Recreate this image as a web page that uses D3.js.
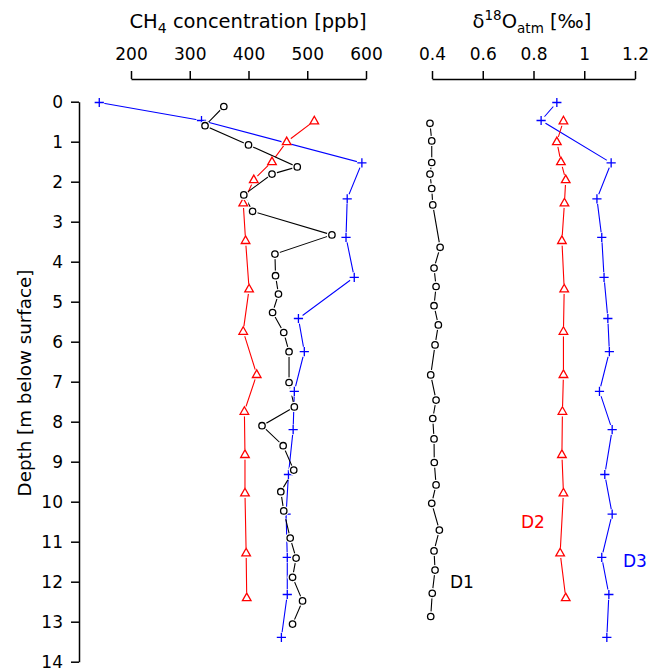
<!DOCTYPE html>
<html><head><meta charset="utf-8">
<script src="https://cdn.jsdelivr.net/npm/d3@7"></script>
<style>body{margin:0;background:#fff;} svg{display:block;font-family:"DejaVu Sans",sans-serif;}</style>
</head><body>
<svg id="chart" width="660" height="669"></svg>
<script>
// ---- data ----
const depthTicks = [0,1,2,3,4,5,6,7,8,9,10,11,12,13,14];
const ch4Ticks = [200,300,400,500,600];
const d18Ticks = [0.4,0.6,0.8,1.0,1.2];
const d18TickLabels = ["0.4","0.6","0.8","1","1.2"];

const d1DepthCH4 = [0.12,0.6,1.08,1.63,1.81,2.33,2.74,3.33,3.81,4.35,4.81,5.27,5.77,6.25,7.02,7.63,8.1,8.6,9.21,9.75,10.23,10.91,11.41,11.89,12.48,13.06];
const d1CH4 = [358,326,400,483,440,392,407,542,445,446,451,441,460,469,469,478,423,459,477,455,460,471,481,475,492,475];
const d1DepthO = [0.54,0.98,1.52,1.81,2.17,2.58,3.64,4.16,4.62,5.1,5.58,6.08,6.83,7.46,7.92,8.43,9.02,9.58,10.04,10.71,11.23,11.71,12.29,12.87];
const d1O = [0.392,0.399,0.399,0.392,0.399,0.403,0.432,0.408,0.416,0.408,0.425,0.412,0.395,0.416,0.403,0.408,0.409,0.416,0.399,0.429,0.408,0.412,0.401,0.395];

const d2Depth = [0.48,1.0,1.5,1.95,2.53,3.47,4.68,5.74,6.82,7.74,8.82,9.78,11.28,12.4];
const d2CH4 = [512,465,440,409,391,395,401,391,414,393,394,394,396,397];
const d2O = [0.918,0.892,0.908,0.927,0.922,0.912,0.921,0.918,0.918,0.914,0.912,0.918,0.905,0.927];

const d3Depth = [0.02,0.47,1.53,2.43,3.39,4.39,5.42,6.25,7.24,8.2,9.32,10.31,11.39,12.32,13.39];
const d3CH4 = [146,320,593,568,566,580,485,495,478,476,468,464,466,466,456];
const d3O = [0.892,0.830,1.106,1.050,1.069,1.078,1.093,1.099,1.060,1.110,1.081,1.110,1.069,1.097,1.089];

// ---- scales ----
const svg = d3.select("#chart");
const y = d3.scaleLinear().domain([0,14]).range([101.7,661.7]);
const xC = d3.scaleLinear().domain([200,600]).range([131,366]);
const xO = d3.scaleLinear().domain([0.4,1.2]).range([432,635]);
const axisY = 79;

// ---- axes ----
function styleAxis(g){
  g.selectAll("path").attr("stroke","#000").attr("stroke-width",1.5);
  g.selectAll("line").attr("stroke","#000").attr("stroke-width",1.5);
  g.selectAll("text").attr("font-family","DejaVu Sans").attr("font-size",17).attr("fill","#000");
}
svg.append("g").attr("transform",`translate(0,${axisY})`)
  .call(d3.axisTop(xC).tickValues(ch4Ticks).tickSize(8).tickSizeOuter(0).tickPadding(11).tickFormat(d3.format("d")))
  .call(styleAxis);
svg.append("g").attr("transform",`translate(0,${axisY})`)
  .call(d3.axisTop(xO).tickValues(d18Ticks).tickSize(8).tickSizeOuter(0).tickPadding(11).tickFormat((d,i)=>d18TickLabels[i]))
  .call(styleAxis);
svg.append("g").attr("transform",`translate(79,0)`)
  .call(d3.axisLeft(y).tickValues(depthTicks).tickSize(8).tickSizeOuter(0).tickPadding(8).tickFormat(d3.format("d")))
  .call(styleAxis);

// ---- titles ----
const t1 = svg.append("text").attr("x",248).attr("y",28).attr("text-anchor","middle").attr("font-size",19.5).attr("fill","#000");
t1.append("tspan").text("CH");
t1.append("tspan").attr("dy",5).attr("font-size",14).text("4");
t1.append("tspan").attr("dy",-5).text(" concentration [ppb]");

const t2 = svg.append("text").attr("x",532).attr("y",28).attr("text-anchor","middle").attr("font-size",19.5).attr("fill","#000");
t2.append("tspan").text("δ");
t2.append("tspan").attr("dy",-8).attr("font-size",13.5).text("18");
t2.append("tspan").attr("dy",8).text("O");
t2.append("tspan").attr("dy",5).attr("font-size",13.5).text("atm");
t2.append("tspan").attr("dy",-5).text(" [‰]");

svg.append("text").attr("transform","translate(31,383) rotate(-90)").attr("text-anchor","middle")
  .attr("font-size",18.3).attr("fill","#000").text("Depth [m below surface]");

// ---- series ----
const series = [
  {xs:d3CH4, ys:d3Depth, sx:xC, color:"blue", marker:"plus"},
  {xs:d2CH4, ys:d2Depth, sx:xC, color:"red", marker:"tri"},
  {xs:d1CH4, ys:d1DepthCH4, sx:xC, color:"black", marker:"circle"},
  {xs:d3O, ys:d3Depth, sx:xO, color:"blue", marker:"plus"},
  {xs:d2O, ys:d2Depth, sx:xO, color:"red", marker:"tri"},
  {xs:d1O, ys:d1DepthO, sx:xO, color:"black", marker:"circle"}
];
const line = d3.line();
series.forEach(s=>{
  const pts = s.xs.map((v,i)=>[s.sx(v), y(s.ys[i])]);
  s.pts = pts;
  svg.append("path").attr("d",line(pts)).attr("fill","none").attr("stroke",s.color).attr("stroke-width",1.1);
});
series.forEach(s=>{
  const g = svg.append("g");
  s.pts.forEach(p=>{
    g.append("circle").attr("cx",p[0]).attr("cy",p[1]).attr("r",5.2).attr("fill","#fff");
  });
  s.pts.forEach(p=>{
    if(s.marker==="circle"){
      g.append("circle").attr("cx",p[0]).attr("cy",p[1]).attr("r",3.2).attr("fill","#fff").attr("stroke",s.color).attr("stroke-width",1.3);
    } else if(s.marker==="tri"){
      g.append("path").attr("transform",`translate(${p[0]},${p[1]})`)
        .attr("d","M0,-4.6L4.3,3L-4.3,3Z").attr("fill","#fff").attr("stroke",s.color).attr("stroke-width",1.3);
    } else {
      g.append("path").attr("transform",`translate(${p[0]},${p[1]})`)
        .attr("d","M-4.6,0H4.6M0,-4.6V4.6").attr("fill","none").attr("stroke",s.color).attr("stroke-width",1.3);
    }
  });
});

// ---- labels ----
svg.append("text").attr("x",450).attr("y",588).attr("font-size",17).attr("fill","#000").text("D1");
svg.append("text").attr("x",521).attr("y",528).attr("font-size",17).attr("fill","red").text("D2");
svg.append("text").attr("x",623).attr("y",567).attr("font-size",17).attr("fill","blue").text("D3");
</script>
</body></html>
